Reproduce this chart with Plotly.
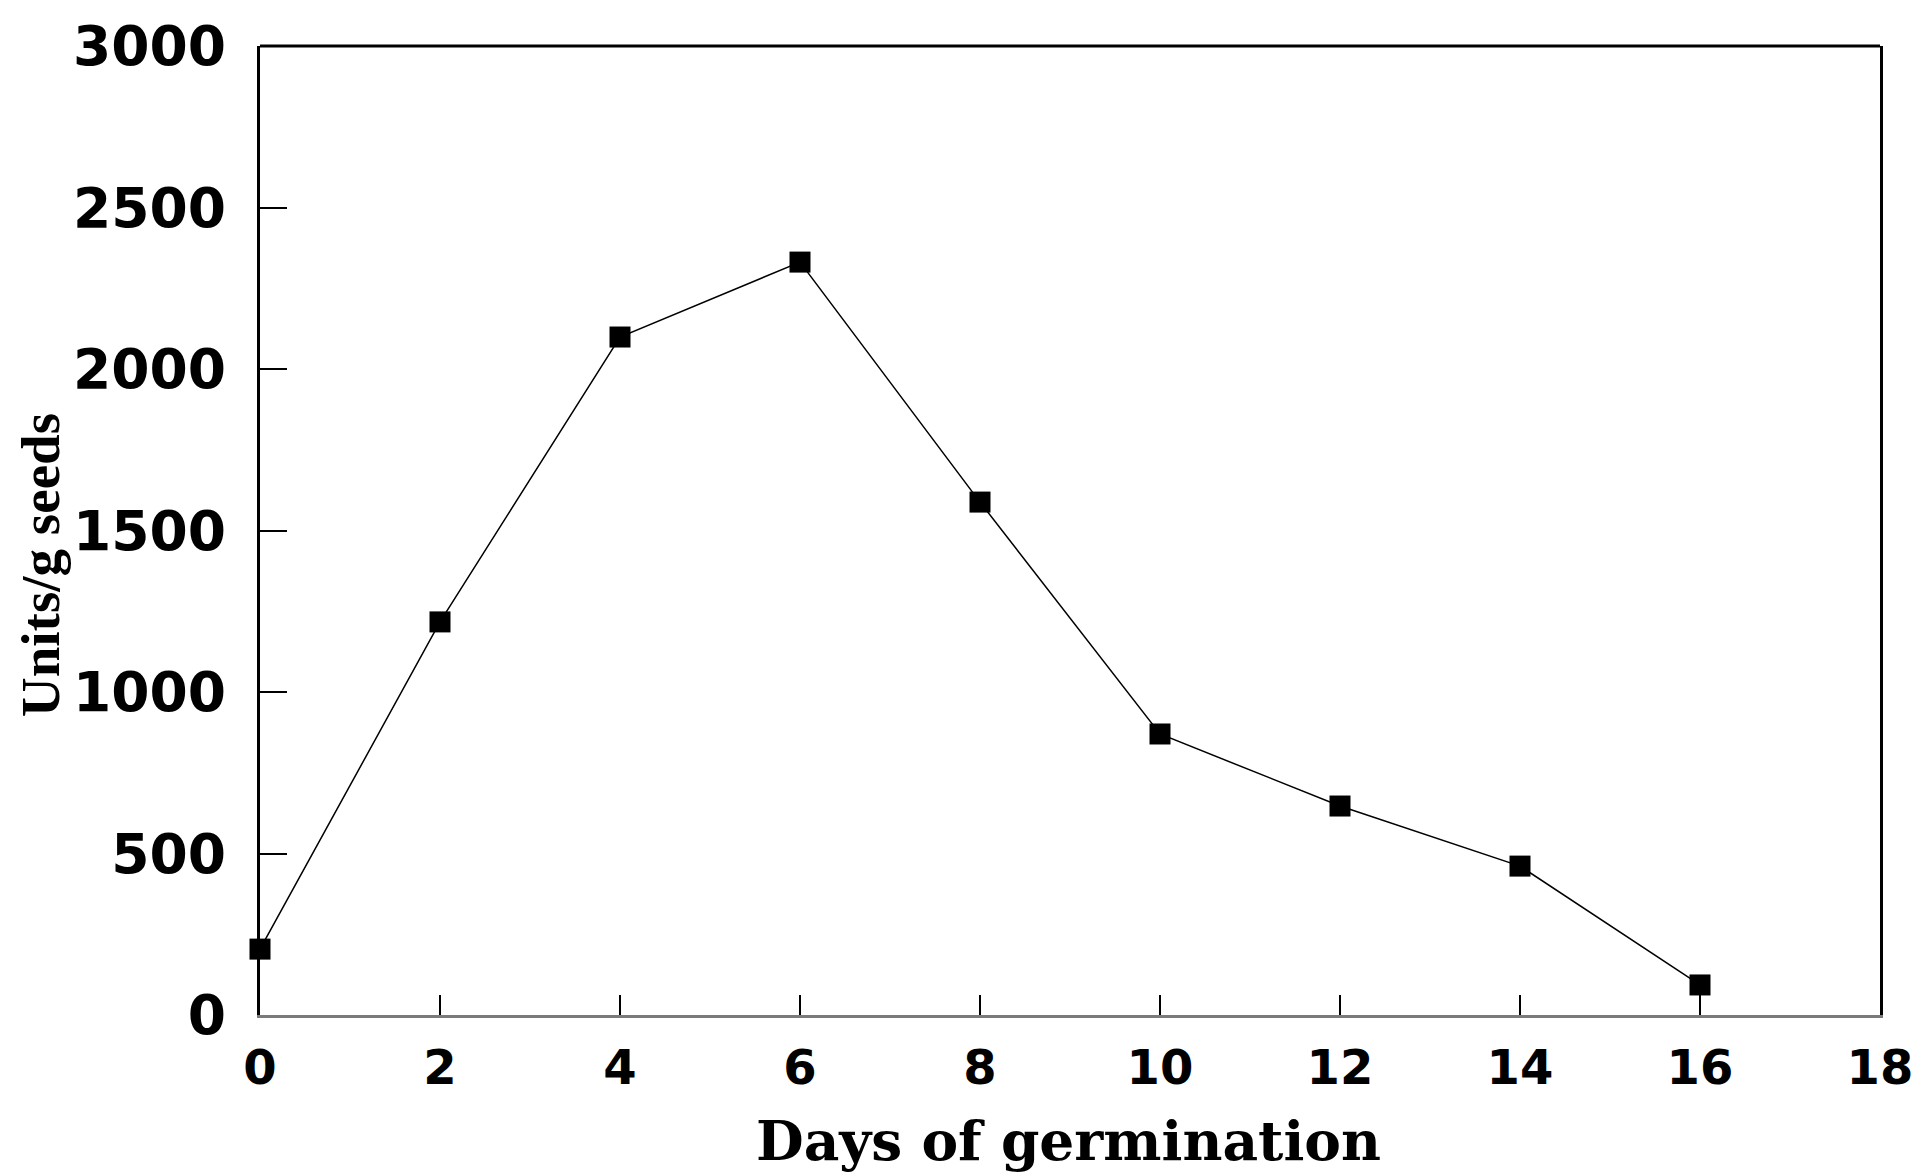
import plotly.graph_objects as go

days = [0, 2, 4, 6, 8, 10, 12, 14, 16]
units = [204, 1217, 2099, 2331, 1588, 870, 647, 461, 93]
x_ticks = [0, 2, 4, 6, 8, 10, 12, 14, 16, 18]
y_ticks = [0, 500, 1000, 1500, 2000, 2500, 3000]

# page has an 8px body margin; figure sized to fill the rest of the viewport
OFF = 8
W, H = 1920 - OFF, 1175 - OFF
L, T = 260 - OFF, 46 - OFF
R = W - (1880 - OFF)
B = H - (1015 - OFF)
pw = W - L - R
ph = H - T - B


def px_to_paper_x(px):
    return (px - OFF - L) / pw


def px_to_paper_y(py):
    return (T + ph - (py - OFF)) / ph


fig = go.Figure()
fig.add_trace(go.Scatter(
    x=days, y=units, mode="lines+markers",
    line=dict(color="black", width=1.5),
    marker=dict(symbol="square", size=21, color="black"),
    showlegend=False, cliponaxis=False,
))

fig.update_layout(
    width=W, height=H,
    margin=dict(l=L, r=R, t=T, b=B, autoexpand=False),
    paper_bgcolor="white", plot_bgcolor="white",
    xaxis=dict(
        range=[0, 18], tickvals=x_ticks, ticktext=[str(v) for v in x_ticks],
        showgrid=False, zeroline=False, automargin=False,
        showline=True, linecolor="#7a7a7a", linewidth=3,
        ticks="inside", ticklen=20, tickwidth=2, tickcolor="black",
        ticklabelstandoff=8,
        tickfont=dict(family="DejaVu Sans", size=48, color="black", weight="bold"),
    ),
    yaxis=dict(
        range=[0, 3000], tickvals=y_ticks, ticktext=[str(v) for v in y_ticks],
        showgrid=False, zeroline=False, automargin=False,
        showline=True, linecolor="black", linewidth=3, mirror=True,
        ticks="inside", ticklen=27, tickwidth=2, tickcolor="black",
        ticklabelstandoff=20,
        tickfont=dict(family="DejaVu Sans", size=55, color="black", weight="bold"),
    ),
    shapes=[dict(type="line", xref="paper", yref="paper", x0=0, x1=1, y0=1, y1=1,
                 line=dict(color="black", width=3))],
    annotations=[
        dict(text="Days of germination", xref="paper", yref="paper",
             x=px_to_paper_x(1068), y=px_to_paper_y(1140),
             xanchor="center", yanchor="middle", showarrow=False, borderpad=0,
             font=dict(family="DejaVu Serif", size=55, color="black", weight="bold")),
        dict(text="Units/g seeds", xref="paper", yref="paper", textangle=-90,
             x=px_to_paper_x(40), y=px_to_paper_y(565),
             xanchor="center", yanchor="middle", showarrow=False,
             font=dict(family="Liberation Serif", size=55, color="black", weight="bold")),
    ],
)

fig.write_html("out.html")
